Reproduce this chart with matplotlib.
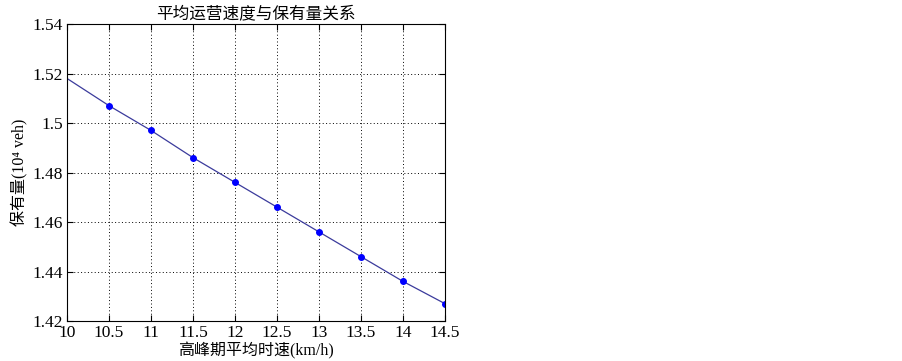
import matplotlib.pyplot as plt

plt.rcParams['font.family'] = ['Liberation Serif', 'Noto Sans CJK SC']

# 数据
speed_line = [10, 10.5, 11, 11.5, 12, 12.5, 13, 13.5, 14, 14.5]
stock_line = [1.518, 1.507, 1.497, 1.486, 1.476, 1.466, 1.456, 1.446, 1.436, 1.427]
speed_pts = [10.5, 11, 11.5, 12, 12.5, 13, 13.5, 14, 14.5]
stock_pts = [1.507, 1.497, 1.486, 1.476, 1.466, 1.456, 1.446, 1.436, 1.427]
xticks = [10, 10.5, 11, 11.5, 12, 12.5, 13, 13.5, 14, 14.5]
yticks = [1.42, 1.44, 1.46, 1.48, 1.5, 1.52, 1.54]

fig = plt.figure(figsize=(9.03, 3.61), dpi=100)
ax = fig.add_axes([0.0742, 0.1108, 0.4186, 0.8227])

ax.plot(speed_line, stock_line, color='#3b3b9c', lw=0.9)
ax.plot(speed_pts, stock_pts, 'o', color='#0000ff', ms=4)

ax.set_xlim(10, 14.5)
ax.set_ylim(1.42, 1.54)
ax.set_xticks(xticks)
ax.set_xticklabels(['10', '10.5', '11', '11.5', '12', '12.5', '13', '13.5', '14', '14.5'])
ax.set_yticks(yticks)
ax.set_yticklabels(['1.42', '1.44', '1.46', '1.48', '1.5', '1.52', '1.54'])
ax.tick_params(direction='in', top=True, right=True, labelsize=12.5, length=4, pad=3)
ax.grid(True, linestyle=(0, (1, 2.5)), color='black', lw=0.7)
for s in ax.spines.values():
    s.set_linewidth(0.8)

ax.set_title('平均运营速度与保有量关系', fontsize=12, pad=4)
ax.set_xlabel('高峰期平均时速(km/h)', fontsize=11.5, labelpad=1)
ax.set_ylabel('保有量(10⁴ veh)', fontsize=11.5, labelpad=3)

fig.savefig('out.png', dpi=100)
